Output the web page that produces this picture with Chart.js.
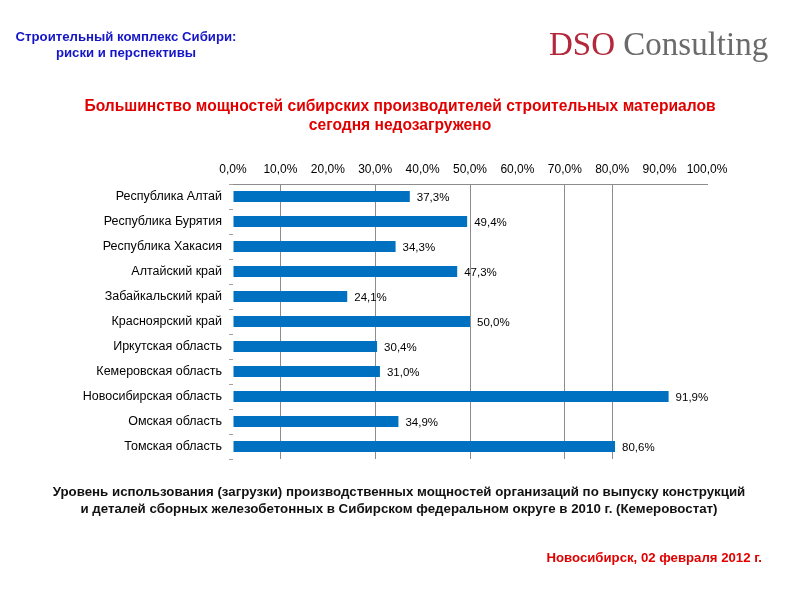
<!DOCTYPE html>
<html>
<head>
<meta charset="utf-8">
<script src="https://cdn.jsdelivr.net/npm/chart.js@4.4.1/dist/chart.umd.min.js"></script>
<style>
  body { margin: 0; background: #fff; }
  #wrap { position: relative; width: 800px; height: 600px; overflow: hidden; font-family: "Liberation Sans", Arial, sans-serif; }
  #grafico { position: absolute; left: 0; top: 0; }
  .txt { position: absolute; white-space: nowrap; }
  #cabecera { left: 0; width: 252px; top: 29px; text-align: center; color: #1515c8; font-weight: bold; font-size: 13.2px; line-height: 16px; }
  #logo { left: 549px; top: 26px; font-family: "Liberation Serif", serif; font-size: 33px; color: #6b6b6b; }
  #logo span { color: #b3283a; }
  #titulo { left: 0; width: 800px; top: 96px; text-align: center; color: #e00000; font-weight: bold; font-size: 15.6px; line-height: 19px; }
  #pie { left: 0; width: 798px; top: 483px; text-align: center; color: #111; font-weight: bold; font-size: 13.3px; line-height: 17px; }
  #fecha { right: 38px; top: 550px; color: #e00000; font-weight: bold; font-size: 13.2px; }
</style>
</head>
<body>
<div id="wrap">
  <canvas id="grafico" width="800" height="600"></canvas>
  <div class="txt" id="cabecera">Строительный комплекс Сибири:<br>риски и перспективы</div>
  <div class="txt" id="logo"><span>DSO</span> Consulting</div>
  <div class="txt" id="titulo">Большинство мощностей сибирских производителей строительных материалов<br>сегодня недозагружено</div>
  <div class="txt" id="pie">Уровень использования (загрузки) производственных мощностей организаций по выпуску конструкций<br>и деталей сборных железобетонных в Сибирском федеральном округе в 2010 г. (Кемеровостат)</div>
  <div class="txt" id="fecha">Новосибирск, 02 февраля 2012 г.</div>
</div>
<script>
const regiones = [
  "Республика Алтай",
  "Республика Бурятия",
  "Республика Хакасия",
  "Алтайский край",
  "Забайкальский край",
  "Красноярский край",
  "Иркутская область",
  "Кемеровская область",
  "Новосибирская область",
  "Омская область",
  "Томская область",
];
const cargaPct = [37.3, 49.4, 34.3, 47.3, 24.1, 50.0, 30.4, 31.0, 91.9, 34.9, 80.6];
// solo estas lineas verticales se ven en la imagen
const lineasVisibles = [10, 30, 50, 70, 80];

const fmt = (v) => v.toFixed(1).replace(".", ",") + "%";

// etiquetas al final de cada barra
const etiquetas = {
  id: "etiquetas",
  afterDatasetsDraw(chart) {
    const c = chart.ctx;
    const meta = chart.getDatasetMeta(0);
    c.save();
    c.font = "11.5px 'Liberation Sans', Arial, sans-serif";
    c.fillStyle = "#000";
    c.textBaseline = "middle";
    meta.data.forEach((bar, i) => {
      c.fillText(fmt(cargaPct[i]), bar.x + 7, bar.y + 1);
    });
    c.restore();
  },
};

new Chart("grafico", {
  type: "bar",
  data: {
    labels: regiones,
    datasets: [
      {
        data: cargaPct,
        backgroundColor: "#0070c0",
        categoryPercentage: 1,
        barPercentage: 0.44,
      },
    ],
  },
  options: {
    indexAxis: "y",
    responsive: false,
    animation: false,
    layout: { padding: { top: 0, left: 0, right: 93, bottom: 141 } },
    plugins: { legend: { display: false }, tooltip: { enabled: false } },
    scales: {
      x: {
        position: "top",
        min: 0,
        max: 100,
        afterFit: (s) => { s.height = 184; },
        border: { display: true, color: "#8c8c8c" },
        grid: {
          drawTicks: false,
          color: (ctx) => (lineasVisibles.includes(ctx.tick && ctx.tick.value) ? "#8c8c8c" : "rgba(0,0,0,0)"),
        },
        ticks: {
          stepSize: 10,
          padding: 7,
          color: "#000",
          font: { family: "'Liberation Sans', Arial, sans-serif", size: 12 },
          callback: (v) => fmt(v),
        },
      },
      y: {
        afterFit: (s) => { s.width = 233; },
        border: { display: false },
        grid: { drawOnChartArea: false, drawTicks: true, tickLength: 4, offset: true, color: "#a0a0a0" },
        ticks: {
          padding: 7,
          color: "#000",
          font: { family: "'Liberation Sans', Arial, sans-serif", size: 12.5 },
        },
      },
    },
  },
  plugins: [etiquetas],
});
</script>
</body>
</html>
